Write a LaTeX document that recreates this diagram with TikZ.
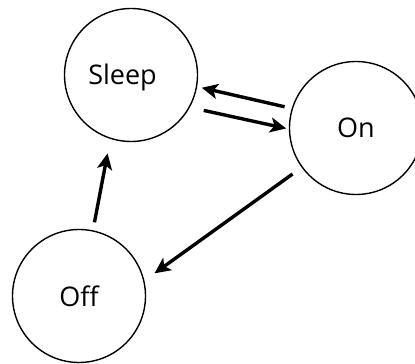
\documentclass[tikz,border=0pt]{standalone}
\usepackage{fontspec}
\setmainfont{Open Sans}
\usetikzlibrary{arrows.meta}

\begin{document}
\begin{tikzpicture}[x=1pt, y=1pt, font=\fontsize{27}{32}\selectfont,
  state/.style={circle, draw, line width=1.4pt, minimum size=133pt, inner sep=0pt, outer sep=0pt},
  trans/.style={-{Stealth[length=16pt, width=15pt, inset=4pt]}, line width=3.4pt}]

\useasboundingbox (0,0) rectangle (415,364);

\node (sleep)[state, label={[xshift=-8.5pt, yshift=-2pt]center:Sleep}] at (131,289) {};
\node (on)[state] at (356,236) {On};
\node (off)[state] at (79,68) {Off};

% transitions
\draw[trans, shorten <=8pt, shorten >=5.4pt] (on.163.4) -- (sleep.-10.5);
\draw[trans, shorten <=14.9pt, shorten >=3.4pt] (sleep.-29.8) -- (on.181);
\draw[trans, shorten <=8.8pt, shorten >=15.4pt] (off.78.4) -- (sleep.-108.2);
\draw[trans, shorten <=11.9pt, shorten >=13.2pt] (on.216.6) -- (off.13.2);
%\draw[trans] (off) -- (on);
\end{tikzpicture}
\end{document}
